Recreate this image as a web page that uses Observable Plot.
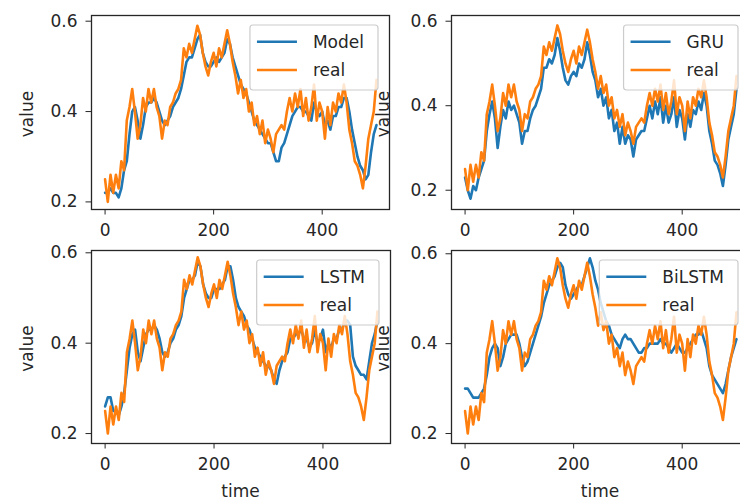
<!DOCTYPE html>
<html><head><meta charset="utf-8">
<script src="https://cdn.jsdelivr.net/npm/d3@7"></script>
<script src="https://cdn.jsdelivr.net/npm/@observablehq/plot@0.6"></script>
<style>
html,body{margin:0;padding:0;background:#fff;}
#wrap{position:relative;width:740px;height:501px;overflow:hidden;background:#fff;}
#wrap svg{position:absolute;}
</style></head><body><div id="wrap"></div>
<script>
// time index (every 5 steps)
const time = d3.range(0, 501, 5);
const xTicks = [0, 200, 400];
const yTicks = [0.2, 0.4, 0.6];
const seriesNames = ["Model", "GRU", "LSTM", "BiLSTM"];
const realName = "real";

const real = [
0.25,0.20,0.26,0.22,0.26,0.23,0.29,0.27,0.38,0.41,
0.45,0.40,0.34,0.37,0.43,0.40,0.45,0.42,0.45,0.41,
0.39,0.34,0.38,0.37,0.41,0.42,0.44,0.45,0.47,0.54,
0.52,0.55,0.53,0.56,0.59,0.57,0.53,0.50,0.48,0.51,
0.53,0.50,0.54,0.52,0.55,0.58,0.55,0.51,0.48,0.44,
0.47,0.43,0.45,0.40,0.42,0.37,0.39,0.35,0.38,0.33,
0.36,0.34,0.31,0.35,0.36,0.37,0.36,0.40,0.43,0.40,
0.44,0.41,0.45,0.39,0.43,0.38,0.41,0.46,0.38,0.42,
0.40,0.34,0.41,0.37,0.42,0.40,0.44,0.42,0.46,0.42,
0.36,0.33,0.29,0.28,0.26,0.23,0.28,0.34,0.37,0.40,
0.47];

const model = [
0.22,0.22,0.23,0.22,0.22,0.21,0.23,0.27,0.29,0.35,
0.40,0.41,0.38,0.34,0.37,0.41,0.42,0.42,0.43,0.42,
0.40,0.38,0.37,0.38,0.39,0.41,0.42,0.43,0.45,0.48,
0.51,0.52,0.52,0.54,0.56,0.57,0.53,0.51,0.50,0.50,
0.51,0.52,0.51,0.52,0.53,0.56,0.55,0.52,0.50,0.48,
0.46,0.45,0.44,0.42,0.40,0.38,0.37,0.36,0.35,0.34,
0.33,0.33,0.31,0.29,0.29,0.32,0.33,0.35,0.37,0.39,
0.40,0.41,0.41,0.40,0.40,0.39,0.38,0.42,0.40,0.39,
0.40,0.37,0.38,0.36,0.39,0.39,0.41,0.41,0.43,0.43,
0.40,0.36,0.33,0.30,0.28,0.27,0.25,0.26,0.31,0.35,
0.37];

const gru = [
0.23,0.20,0.18,0.21,0.20,0.23,0.25,0.27,0.34,0.38,
0.41,0.37,0.30,0.35,0.39,0.37,0.41,0.39,0.40,0.38,
0.36,0.31,0.34,0.34,0.37,0.39,0.40,0.42,0.44,0.49,
0.49,0.51,0.50,0.52,0.56,0.53,0.49,0.46,0.45,0.47,
0.48,0.47,0.50,0.49,0.51,0.55,0.52,0.48,0.46,0.42,
0.44,0.40,0.42,0.37,0.39,0.34,0.36,0.31,0.35,0.31,
0.33,0.32,0.28,0.32,0.33,0.34,0.34,0.37,0.40,0.37,
0.41,0.38,0.42,0.36,0.40,0.36,0.38,0.42,0.35,0.39,
0.37,0.32,0.38,0.35,0.39,0.38,0.41,0.39,0.43,0.40,
0.34,0.31,0.27,0.26,0.24,0.21,0.26,0.32,0.35,0.38,
0.44];

const lstm = [
0.26,0.28,0.28,0.25,0.25,0.24,0.26,0.29,0.34,0.39,
0.42,0.43,0.38,0.36,0.39,0.42,0.43,0.43,0.44,0.43,
0.41,0.38,0.37,0.38,0.40,0.41,0.43,0.44,0.46,0.50,
0.52,0.54,0.54,0.55,0.58,0.57,0.53,0.51,0.50,0.50,
0.52,0.52,0.52,0.53,0.54,0.57,0.57,0.54,0.50,0.48,
0.47,0.46,0.44,0.43,0.41,0.39,0.38,0.37,0.36,0.35,
0.35,0.34,0.32,0.31,0.34,0.36,0.37,0.38,0.41,0.41,
0.42,0.42,0.43,0.41,0.41,0.39,0.40,0.43,0.40,0.41,
0.43,0.38,0.40,0.39,0.41,0.41,0.43,0.43,0.45,0.45,
0.44,0.37,0.35,0.34,0.33,0.33,0.32,0.36,0.40,0.42,
0.45];

const bilstm = [
0.30,0.30,0.29,0.28,0.28,0.28,0.29,0.30,0.33,0.37,
0.39,0.40,0.39,0.35,0.37,0.40,0.41,0.42,0.42,0.42,
0.40,0.37,0.35,0.36,0.38,0.40,0.42,0.44,0.46,0.49,
0.51,0.53,0.54,0.55,0.57,0.58,0.57,0.53,0.51,0.50,
0.51,0.52,0.53,0.53,0.55,0.57,0.59,0.57,0.54,0.52,
0.49,0.47,0.45,0.44,0.42,0.41,0.40,0.39,0.41,0.42,
0.41,0.41,0.40,0.39,0.38,0.38,0.39,0.39,0.40,0.40,
0.40,0.40,0.41,0.40,0.40,0.39,0.38,0.39,0.40,0.39,
0.38,0.38,0.39,0.40,0.41,0.42,0.42,0.43,0.41,0.39,
0.35,0.33,0.32,0.31,0.30,0.29,0.31,0.34,0.37,0.39,
0.41];

const BLUE = "#1f77b4", ORANGE = "#ff7f0e", FONT = "'DejaVu Sans', sans-serif";

const panels = [
  {name: seriesNames[0], values: model,  left: 0,   top: 0,   width: 400, height: 250, mL: 91, mR: 11, mT: 15, mB: 41, y: [0.1832, 0.6126], ylx: 33, xlabel: false},
  {name: seriesNames[1], values: gru,    left: 370, top: 0,   width: 390, height: 250, mL: 81, mR: 11, mT: 15, mB: 41, y: [0.1544, 0.6135], ylx: 19, xlabel: false},
  {name: seriesNames[2], values: lstm,   left: 0,   top: 230, width: 400, height: 271, mL: 91, mR: 10, mT: 20, mB: 58, y: [0.1780, 0.6051], ylx: 33, xlabel: true},
  {name: seriesNames[3], values: bilstm, left: 370, top: 230, width: 390, height: 271, mL: 81, mR: 11, mT: 20, mB: 58, y: [0.1778, 0.6073], ylx: 19, xlabel: true}
];

const wrap = document.getElementById("wrap");

for (const p of panels) {
  const rows = time.map((t, i) => ({t, v: p.values[i], r: real[i]}));
  const svg = Plot.plot({
    width: p.width, height: p.height,
    marginLeft: p.mL, marginRight: p.mR, marginTop: p.mT, marginBottom: p.mB,
    style: {background: "transparent", fontFamily: FONT, fontSize: "17px", color: "#262626", overflow: "visible"},
    x: {domain: [-25, 524], ticks: xTicks, tickSize: 5.5, tickPadding: 8.5, label: null, tickFormat: d => String(d)},
    y: {domain: p.y, ticks: yTicks, tickSize: 5.5, tickPadding: 8.5, label: null, tickFormat: d => d.toFixed(1)},
    marks: [
      Plot.line(rows, {x: "t", y: "v", stroke: BLUE, strokeWidth: 2.6}),
      Plot.line(rows, {x: "t", y: "r", stroke: ORANGE, strokeWidth: 2.6}),
      Plot.frame({stroke: "#262626", strokeWidth: 1.3})
    ]
  });
  svg.style.left = p.left + "px";
  svg.style.top = p.top + "px";
  wrap.appendChild(svg);

  const g = d3.select(svg).append("g").attr("font-family", FONT).attr("font-size", 17).attr("fill", "#262626");
  const fx0 = p.mL, fx1 = p.width - p.mR, fy0 = p.mT, fy1 = p.height - p.mB;

  // legend
  const lg = g.append("g").attr("text-anchor", "start");
  const rect = lg.append("rect");
  const t1 = lg.append("text").text(p.name);
  const t2 = lg.append("text").text(realName);
  const W = Math.max(t1.node().getComputedTextLength(), t2.node().getComputedTextLength());
  const bw = 77 + W, bh = 65;
  const bx = fx1 - 11 - bw, by = fy0 + 10;
  rect.attr("x", bx).attr("y", by).attr("width", bw).attr("height", bh).attr("rx", 3)
      .attr("fill", "white").attr("fill-opacity", 0.8).attr("stroke", "#cccccc").attr("stroke-width", 1.2);
  const rowsY = [by + 16.7, by + 45];
  [[BLUE, t1], [ORANGE, t2]].forEach(([c, t], i) => {
    lg.append("line").attr("x1", bx + 7).attr("x2", bx + 47).attr("y1", rowsY[i]).attr("y2", rowsY[i])
      .attr("stroke", c).attr("stroke-width", 2.6);
    t.attr("x", bx + 63).attr("y", rowsY[i]).attr("dy", "0.36em");
  });

  // y label
  g.append("text").attr("text-anchor", "middle")
    .attr("transform", `translate(${p.ylx},${(fy0 + fy1) / 2 + 2}) rotate(-90)`).text("value");
  // x label
  if (p.xlabel) {
    g.append("text").attr("text-anchor", "middle").attr("x", (fx0 + fx1) / 2).attr("y", 497 - p.top).text("time");
  }
}
</script></body></html>
